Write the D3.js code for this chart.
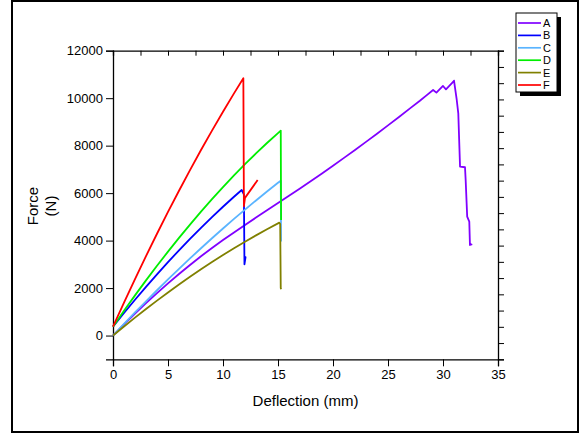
<!DOCTYPE html>
<html><head><meta charset="utf-8">
<script src="https://cdn.jsdelivr.net/npm/d3@7"></script>
<style>body{margin:0;background:#fff}svg{display:block;font-family:"Liberation Sans",Arial,sans-serif}</style>
</head><body><svg id="c" width="579" height="434"></svg>
<script>
// Data (deflection mm, force N)
const seriesNames = ["A","B","C","D","E","F"];
const seriesColors = ["#8000FF","#0000FF","#5AB4FF","#00EE00","#808000","#FF0000"];
const A = [[0,0],[1,470],[2,925],[3,1365],[4,1790],[5,2200],[6,2595],[7,2975],[8,3340],[9,3690],[10,4025],[11,4345],[12,4660],[13,4970],[14,5275],[15,5580],[16,5885],[17,6195],[18,6510],[19,6830],[20,7155],[21,7485],[22,7820],[23,8160],[24,8505],[25,8855],[26,9210],[27,9570],[27.9,9890],[28.5,10120],[29.1,10346],[29.4,10232],[30.0,10514],[30.27,10374],[30.94,10695],[31.0,10740],[31.25,9924],[31.39,9364],[31.55,7115],[32.0,7090],[32.06,6554],[32.2,5008],[32.39,4798],[32.45,3816],[32.66,3846]];
const B = [[0,375],[1,949],[2,1508],[3,2052],[4,2580],[5,3093],[6,3591],[7,4073],[8,4540],[9,4991],[10,5427],[11,5847],[11.7,6133],[11.9,5950],[11.95,3000],[12.05,3300],[11.95,3150]];
const C = [[0,0],[1,491],[2,972],[3,1445],[4,1909],[5,2365],[6,2811],[7,3249],[8,3678],[9,4098],[10,4510],[11,4913],[12,5307],[13,5692],[14,6068],[15,6436],[15.25,6525],[15.28,3960]];
const D = [[0,375],[1,1043],[2,1693],[3,2324],[4,2938],[5,3535],[6,4114],[7,4676],[8,5219],[9,5745],[10,6254],[11,6745],[12,7218],[13,7673],[14,8111],[15,8531],[15.25,8633],[15.28,4870]];
const E = [[0,0],[1,383],[2,755],[3,1119],[4,1472],[5,1817],[6,2151],[7,2476],[8,2791],[9,3096],[10,3392],[11,3678],[12,3955],[13,4221],[14,4479],[15,4727],[15.12,4756],[15.2,4700],[15.25,2000],[15.28,1950]];
const F = [[0,375],[1,1390],[2,2381],[3,3347],[4,4289],[5,5207],[6,6100],[7,6970],[8,7815],[9,8635],[10,9430],[11,10202],[11.85,10838],[11.9,5450],[12.0,5800],[13.15,6550]];
const seriesData = [A,B,C,D,E,F];
const xTicks = [0,5,10,15,20,25,30,35];
const yTicks = [0,2000,4000,6000,8000,10000,12000];
const xTitle = "Deflection (mm)";
const yTitle = ["Force","(N)"];

const svg = d3.select("#c");
const L=113, R=498, T=50.7, B0=359.3;
const x = d3.scaleLinear().domain([0,35]).range([L,R]);
const y = d3.scaleLinear().domain([-1000,12000]).range([B0,T]);
const yR = d3.scaleLinear().domain([0,19]).range([B0,T]);

svg.append("rect").attr("x",0).attr("y",0).attr("width",579).attr("height",434).attr("fill","#fff");
svg.append("rect").attr("x",12).attr("y",1).attr("width",566).attr("height",431)
  .attr("fill","none").attr("stroke","#000").attr("stroke-width",2);

// axes
const gx = svg.append("g").attr("transform",`translate(0,${B0})`);
gx.call(d3.axisBottom(x).tickValues(d3.range(0,35.01,2.5)).tickSize(4).tickFormat(""));
gx.call(d3.axisBottom(x).tickValues(xTicks).tickSize(7).tickPadding(3).tickFormat(d3.format("d")));
const gy = svg.append("g").attr("transform",`translate(${L},0)`);
gy.call(d3.axisLeft(y).tickValues(d3.range(-1000,12001,1000)).tickSize(4).tickFormat(""));
gy.call(d3.axisLeft(y).tickValues(yTicks).tickSize(7).tickPadding(3).tickFormat(d3.format("d")));
const gt = svg.append("g").attr("transform",`translate(0,${T})`);
gt.call(d3.axisTop(x).tickValues(d3.range(0,35.01,2.5)).tickSize(-5).tickFormat(""));
const gr = svg.append("g").attr("transform",`translate(${R},0)`);
gr.call(d3.axisRight(yR).tickValues(d3.range(0,20,1)).tickSize(6).tickFormat(""));
svg.selectAll(".domain").attr("stroke","#000").attr("stroke-width",1.3);
svg.selectAll(".tick line").attr("stroke","#000").attr("stroke-width",1);
svg.selectAll(".tick text").attr("font-size",13).attr("fill","#000").attr("font-family","Liberation Sans, Arial, sans-serif");

// lines
const line = d3.line().x(d=>x(d[0])).y(d=>y(d[1]));
seriesData.forEach((s,i)=>{
  svg.append("path").attr("d",line(s)).attr("fill","none")
    .attr("stroke",seriesColors[i]).attr("stroke-width",1.8).attr("stroke-linejoin","round");
});

// titles
svg.append("text").attr("x",(L+R)/2).attr("y",406).attr("text-anchor","middle")
  .attr("font-size",15).text(xTitle);
svg.append("text").attr("transform","translate(38,206) rotate(-90)").attr("text-anchor","middle")
  .attr("font-size",15).text(yTitle[0]);
svg.append("text").attr("transform","translate(56,206) rotate(-90)").attr("text-anchor","middle")
  .attr("font-size",15).text(yTitle[1]);

// legend
const lg = svg.append("g");
lg.append("rect").attr("x",520).attr("y",17).attr("width",41).attr("height",79).attr("fill","#000");
lg.append("rect").attr("x",516).attr("y",13).attr("width",41).attr("height",79)
  .attr("fill","#fff").attr("stroke","#000").attr("stroke-width",1);
seriesNames.forEach((n,i)=>{
  const yy = 23 + 12.4*i;
  lg.append("line").attr("x1",518).attr("x2",541).attr("y1",yy).attr("y2",yy)
    .attr("stroke",seriesColors[i]).attr("stroke-width",1.7);
  lg.append("text").attr("x",543).attr("y",yy+4).attr("font-size",11).text(n);
});
</script></body></html>
